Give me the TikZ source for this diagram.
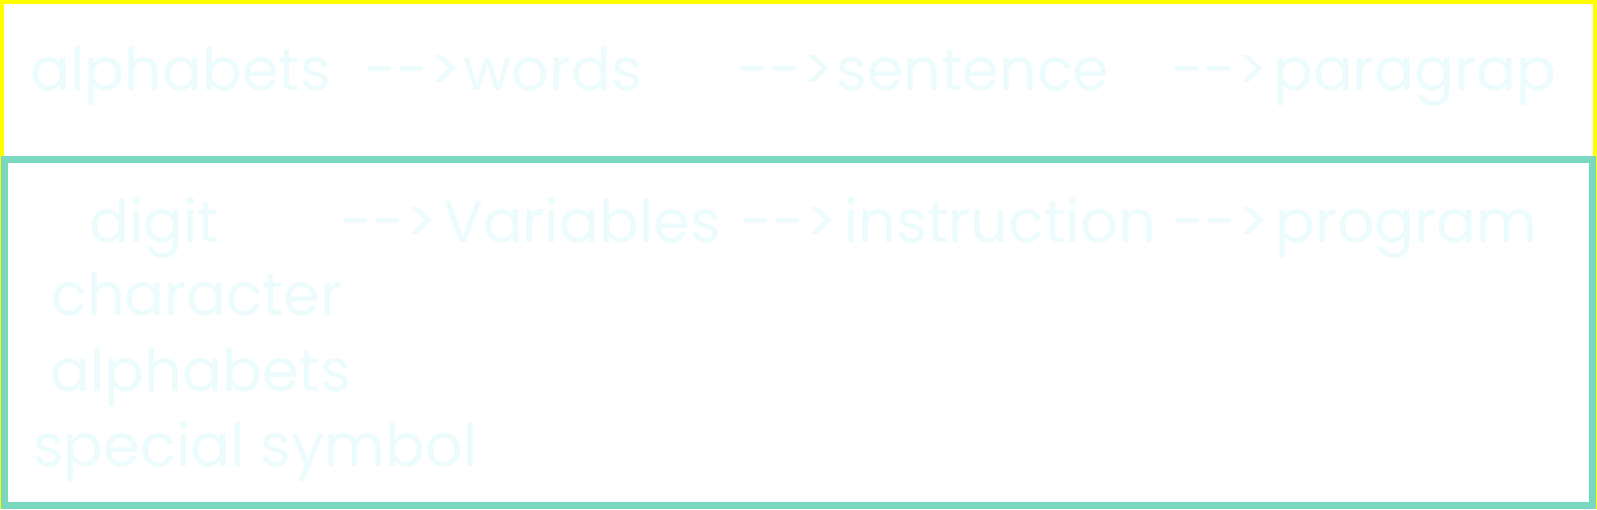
\documentclass[tikz,border=0pt]{standalone}
\usepackage{fontspec}
\newfontfamily\pop{Poppins}
\definecolor{frameyellow}{RGB}{255,255,0}
\definecolor{frameteal}{RGB}{120,216,192}
\definecolor{txtcol}{RGB}{236,252,252}
\tikzset{
  word/.style={font=\pop\fontsize{59}{70}\selectfont, text=txtcol, inner sep=0pt, anchor=base west},
  outerframe/.style={draw=frameyellow, line width=4pt},
  innerframe/.style={draw=frameteal, line width=6.5pt}
}
\begin{document}
\begin{tikzpicture}[x=1pt,y=-1pt]
\useasboundingbox[fill=white] (0,0) rectangle (1597,509);
\draw[outerframe] (2,2) rectangle (1595,507);
\draw[innerframe] (4.5,159.5) rectangle (1592.5,505.5);
% row 1
\node[word] (a1) at (30,90) {alphabets};
\node[word] (r1) at (364,90) {-->};
\node[word] (a2) at (463,90) {words};
\node[word] (r2) at (737,90) {-->};
\node[word] (a3) at (836,90) {sentence};
\node[word] (r3) at (1171,90) {-->};
\node[word] (a4) at (1273,90) {paragrap};
% row 2
\node[word] (b1) at (89,242) {digit};
\node[word] (s1) at (340,242) {-->};
\node[word] (b2) at (443,242) {Variables};
\node[word] (s2) at (740,242) {-->};
\node[word] (b3) at (844,242) {instruction};
\node[word] (s3) at (1172,242) {-->};
\node[word] (b4) at (1275,242) {program};
% list
\node[word] (c1) at (51,315) {character};
\node[word] (c2) at (50,391) {alphabets};
\node[word] (c3) at (33,466) {special symbol};
\end{tikzpicture}
\end{document}
